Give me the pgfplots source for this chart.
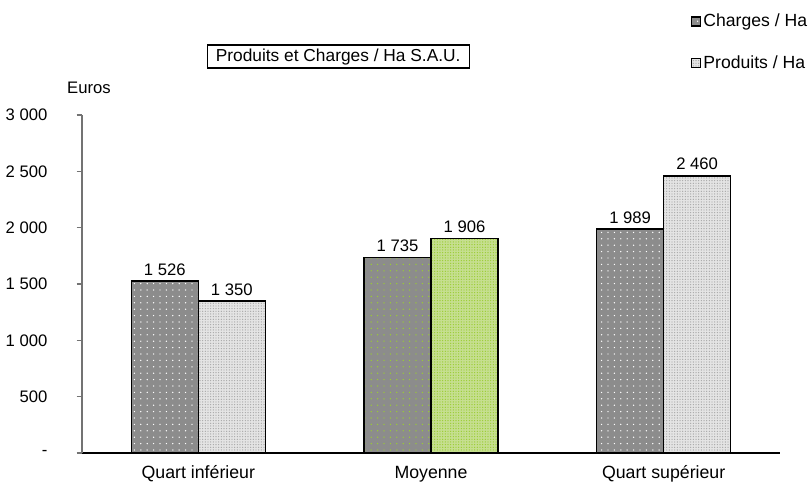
\documentclass[border=0pt]{standalone}
\usepackage{fontspec}
\setmainfont{Liberation Sans}
\usepackage{pgfplots}
\pgfplotsset{compat=1.18}
\usetikzlibrary{patterns.meta}

\definecolor{chgray}{HTML}{8C8C8C}
\definecolor{prlight}{HTML}{E4E4E4}
\definecolor{prdot}{HTML}{A8A8A8}
\definecolor{grdot}{HTML}{9ACD32}
\definecolor{prgreen}{HTML}{C6DF90}

\newcommand{\lbl}{\fontsize{12.5}{14}\selectfont}

\begin{document}
\begin{tikzpicture}
\path[use as bounding box] (-61.5pt,-21.75pt) rectangle (544.5pt,339.75pt);
\begin{axis}[
    at={(0,0)}, anchor=south west,
    scale only axis,
    width=523.5pt, height=253.5pt,
    xmin=-0.5, xmax=2.5,
    ymin=0, ymax=3000,
    axis x line*=bottom,
    axis y line*=left,
    x axis line style={black, line width=0.8pt},
    y axis line style={black!55, line width=0.8pt},
    ybar=0pt, bar width=50.25pt,
    xtick={0,1,2},
    xticklabels={Quart inférieur, Moyenne, Quart supérieur},
    xtick style={draw=none},
    extra x ticks={-0.5,0.5,1.5,2.5},
    extra x tick labels={},
    extra x tick style={tick style={draw=black, line width=0.8pt}, major tick length=4pt, tick align=outside},
    xticklabel style={font=\fontsize{13.3}{15}\selectfont, anchor=base, inner sep=0pt, yshift=-15.5pt},
    ytick={0,500,1000,1500,2000,2500,3000},
    yticklabels={-,500,1 000,1 500,2 000,2 500,3 000},
    ytick style={draw=black!55, line width=0.8pt},
    major tick length=4pt, tick align=outside,
    yticklabel style={font=\lbl, anchor=east, inner sep=0pt, xshift=-21.75pt},
    nodes near coords,
    point meta=explicit symbolic,
    nodes near coords style={font=\lbl, anchor=south, inner sep=0pt, yshift=3.75pt, text=black},
    legend style={at={(0.872,1.305)}, anchor=north west, draw=none, fill=none,
        inner sep=0pt, row sep=17pt, font=\fontsize{13.2}{15}\selectfont,
        nodes={inner sep=1.5pt}},
    legend cell align=left,
    legend image code/.code={\draw[#1, line width=1.1pt] (0pt,-3.4pt) rectangle (6.8pt,3.4pt);},
    clip=false,
]
% Charges, quarts
\addplot[draw=black, line width=1.1pt, bar shift=-25.125pt,
    preaction={fill=chgray},
    pattern={Dots[distance=4.8pt, radius=0.55pt]}, pattern color=white]
    coordinates {(0,1526) [1 526] (2,1989) [1 989]};
\addlegendentry{Charges / Ha}
% Produits, quarts
\addplot[draw=black, line width=1.1pt, bar shift=25.125pt,
    preaction={fill=prlight},
    pattern={Dots[distance=2pt, radius=0.5pt]}, pattern color=prdot]
    coordinates {(0,1350) [1 350] (2,2460) [2 460]};
\addlegendentry{Produits / Ha}
% Moyenne
\addplot[draw=black, line width=1.1pt, bar shift=-25.125pt, forget plot,
    preaction={fill=chgray},
    pattern={Dots[distance=4.8pt, radius=0.55pt]}, pattern color=grdot]
    coordinates {(1,1735) [1 735]};
\addplot[draw=black, line width=1.1pt, bar shift=25.125pt, forget plot,
    preaction={fill=prgreen},
    pattern={Dots[distance=2pt, radius=0.5pt]}, pattern color=grdot]
    coordinates {(1,1906) [1 906]};

\node[font=\lbl, inner sep=0pt] at (axis description cs:0.01,1.08) {Euros};
\node[font=\fontsize{13}{15}\selectfont, draw=black, line width=0.9pt,
    minimum width=196.5pt, minimum height=17.25pt, inner sep=2pt]
    at (axis description cs:0.367,1.173) {Produits et Charges / Ha S.A.U.};
\end{axis}
\end{tikzpicture}
\end{document}
